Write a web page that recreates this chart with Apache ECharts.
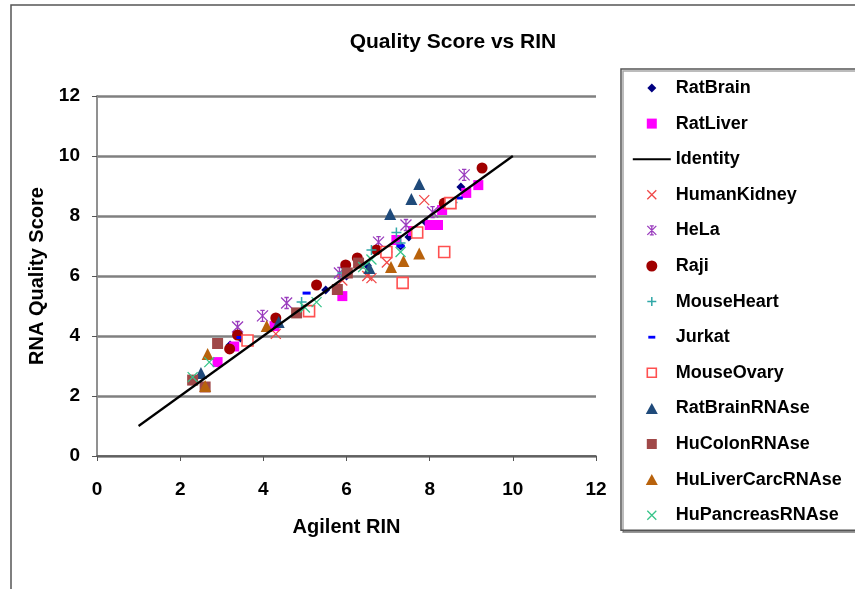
<!DOCTYPE html>
<html>
<head>
<meta charset="utf-8">
<script src="https://cdn.jsdelivr.net/npm/echarts@6/dist/echarts.min.js"></script>
<style>
  html, body { margin: 0; padding: 0; background: #fff; }
  #chart { width: 855px; height: 589px; }
</style>
</head>
<body>
<div id="chart"></div>
<script>
// values: [Agilent RIN, RNA Quality Score]
const ratBrain = [[3.2, 3.7], [3.45, 3.93], [5.5, 5.53], [6.0, 6.0], [6.5, 6.35], [7.0, 6.8], [7.3, 7.0], [7.5, 7.3], [7.9, 7.8], [8.75, 8.97]];
const ratLiver = [[2.9, 3.13], [3.3, 3.65], [4.27, 4.33], [5.9, 5.33], [7.2, 7.2], [7.6, 7.5], [8.0, 7.7], [8.2, 7.7], [8.3, 8.2], [8.88, 8.77], [9.17, 9.03]];
const identity = [[1, 1], [10, 10]];
const humanKidney = [[4.3, 4.07], [5.9, 5.85], [6.5, 6.0], [6.6, 5.93], [6.97, 6.45], [7.87, 8.53]];
const hela = [[3.38, 4.3], [3.98, 4.67], [4.56, 5.1], [5.83, 6.1], [6.77, 7.13], [7.43, 7.7], [8.07, 8.13], [8.83, 9.37]];
const raji = [[3.19, 3.57], [3.38, 4.03], [4.3, 4.6], [5.28, 5.7], [5.98, 6.37], [6.26, 6.6], [6.72, 6.87], [8.35, 8.43], [9.26, 9.6]];
const mouseHeart = [[4.92, 5.13], [5.9, 6.1], [6.6, 6.87], [7.2, 7.45], [7.3, 7.1], [8.55, 8.45]];
const jurkat = [[3.45, 3.95], [5.04, 5.43], [6.3, 6.42], [7.3, 7.0], [7.7, 7.4], [8.7, 8.6]];
const mouseOvary = [[3.62, 3.85], [5.1, 4.83], [6.96, 6.8], [7.35, 5.77], [7.7, 7.45], [8.35, 6.8], [8.5, 8.43]];
const ratBrainRNAse = [[2.5, 2.77], [4.37, 4.47], [6.55, 6.27], [7.05, 8.07], [7.56, 8.57], [7.75, 9.07]];
const huColonRNAse = [[2.3, 2.53], [2.6, 2.3], [2.9, 3.75], [4.8, 4.77], [5.78, 5.55], [6.02, 6.1], [6.29, 6.43]];
const huLiverCarcRNAse = [[2.6, 2.33], [2.66, 3.4], [4.08, 4.33], [7.07, 6.3], [7.37, 6.5], [7.75, 6.75]];
const huPancreasRNAse = [[2.3, 2.63], [2.7, 3.13], [5.0, 4.95], [5.28, 5.13], [6.4, 6.3], [6.6, 6.55], [7.3, 6.8]];

const xTicks = ['0', '2', '4', '6', '8', '10', '12'];
const yTicks = ['0', '2', '4', '6', '8', '10', '12'];

const FONT = '"Liberation Sans", Arial, sans-serif';
const CROSS = 'path://M0,0L10,10M10,0L0,10';
const STAR = 'path://M0,0L10,10M10,0L0,10M5,0L5,10M3,0L7,0M3,10L7,10';
const PLUS = 'path://M5,0L5,10M0,5L10,5';

// legend icons live in a 38x12 box; the two bare moveTo points fix the box
const BOX = 'path://M0,0M38,12';
const ICON = {
  diamond: BOX + 'M19,1.5L23.5,6L19,10.5L14.5,6Z',
  square: BOX + 'M14,1L24,1L24,11L14,11Z',
  line: BOX + 'M0,5L38,5L38,7L0,7Z',
  cross: BOX + 'M14.5,1.5L23.5,10.5M23.5,1.5L14.5,10.5',
  star: BOX + 'M14.5,1.5L23.5,10.5M23.5,1.5L14.5,10.5M19,1.5L19,10.5M17,1.5L21,1.5M17,10.5L21,10.5',
  circle: BOX + 'M13.5,6A5.5,5.5 0 1 1 24.5,6A5.5,5.5 0 1 1 13.5,6Z',
  plus: BOX + 'M19,1.5L19,10.5M14.5,6L23.5,6',
  dash: BOX + 'M15.5,4.6L22.5,4.6L22.5,7.4L15.5,7.4Z',
  hollow: BOX + 'M14.5,1.5L23.5,1.5L23.5,10.5L14.5,10.5Z',
  triangle: BOX + 'M19,0.5L25,11.5L13,11.5Z',
};

function pts(name, data, symbol, size, color, extra) {
  return Object.assign({
    name: name,
    type: 'scatter',
    data: data,
    symbol: symbol,
    symbolSize: size,
    itemStyle: { color: color, opacity: 1 },
  }, extra || {});
}

function strokeOnly(color, w) {
  return { itemStyle: { color: color, borderColor: color, borderWidth: w, opacity: 1 } };
}

function leg(name, icon, fill, stroke, w) {
  return {
    name: name,
    icon: icon,
    itemStyle: { color: fill, borderColor: stroke || fill, borderWidth: w || 0, opacity: 1 },
  };
}

const chart = echarts.init(document.getElementById('chart'));
chart.setOption({
  animation: false,
  title: {
    text: 'Quality Score vs RIN',
    left: 448,
    top: 27,
    textAlign: 'center',
    textStyle: { fontFamily: FONT, fontWeight: 'bold', fontSize: 21, color: '#000' },
  },
  graphic: [{
    type: 'rect',
    shape: { x: 11, y: 5, width: 900, height: 700 },
    style: { fill: 'none', stroke: '#555', lineWidth: 1.5 },
    silent: true,
  }],
  grid: { left: 97, right: 259, top: 96, bottom: 133 },
  legend: {
    orient: 'vertical',
    left: 621,
    top: 69,
    padding: [9, 60, 5, 11],
    itemWidth: 38,
    itemHeight: 12,
    itemGap: 15.6,
    borderColor: '#555',
    borderWidth: 1.5,
    shadowColor: 'rgba(0,0,0,0.35)',
    shadowOffsetX: 2,
    shadowOffsetY: 2,
    backgroundColor: '#fff',
    textStyle: { fontFamily: FONT, fontWeight: 'bold', fontSize: 18, lineHeight: 20, color: '#000' },
    data: [
      leg('RatBrain', ICON.diamond, '#000080'),
      leg('RatLiver', ICON.square, '#FF00FF'),
      leg('Identity', ICON.line, '#000000'),
      leg('HumanKidney', ICON.cross, '#F04848', '#F04848', 1.3),
      leg('HeLa', ICON.star, '#9A3CBE', '#9A3CBE', 1.3),
      leg('Raji', ICON.circle, '#A00000'),
      leg('MouseHeart', ICON.plus, '#30A8A8', '#30A8A8', 1.5),
      leg('Jurkat', ICON.dash, '#0000FF'),
      leg('MouseOvary', ICON.hollow, '#FFFFFF', '#FF5050', 1.6),
      leg('RatBrainRNAse', ICON.triangle, '#1F4A7A'),
      leg('HuColonRNAse', ICON.square, '#A04848'),
      leg('HuLiverCarcRNAse', ICON.triangle, '#B8620C'),
      leg('HuPancreasRNAse', ICON.cross, '#38C48A', '#38C48A', 1.3),
    ],
  },
  xAxis: {
    type: 'value',
    min: 0,
    max: 12,
    interval: 2,
    name: 'Agilent RIN',
    nameLocation: 'middle',
    nameGap: 61,
    nameTextStyle: { fontFamily: FONT, fontWeight: 'bold', fontSize: 20, color: '#000' },
    axisLine: { onZero: false, lineStyle: { color: '#555', width: 1.5 } },
    axisTick: { show: true, length: 5, lineStyle: { color: '#555' } },
    axisLabel: {
      margin: 24,
      fontFamily: FONT, fontWeight: 'bold', fontSize: 19, color: '#000',
      formatter: (v) => xTicks[Math.round(v / 2)],
    },
    splitLine: { show: false },
  },
  yAxis: [{
    type: 'value',
    min: 0,
    max: 12,
    interval: 2,
    name: 'RNA Quality Score',
    nameLocation: 'middle',
    nameGap: 45,
    nameTextStyle: { fontFamily: FONT, fontWeight: 'bold', fontSize: 20, color: '#000' },
    axisLine: { show: true, onZero: false, lineStyle: { color: '#555', width: 1.5 } },
    axisTick: { show: true, length: 5, lineStyle: { color: '#555' } },
    axisLabel: {
      margin: 17,
      fontFamily: FONT, fontWeight: 'bold', fontSize: 19, color: '#000',
      formatter: (v) => yTicks[Math.round(v / 2)],
    },
    splitLine: { show: true, lineStyle: { color: '#808080', width: 2.5 } },
  }, {
    type: 'value',
    position: 'right',
    min: 0,
    max: 12,
    interval: 2,
    axisLine: { show: true, lineStyle: { color: '#999', width: 1.5 } },
    axisTick: { show: false },
    axisLabel: { show: false },
    splitLine: { show: false },
  }],
  series: [
    pts('RatBrain', ratBrain, 'diamond', 9, '#000080'),
    pts('RatLiver', ratLiver, 'rect', 10, '#FF00FF'),
    {
      name: 'Identity',
      type: 'line',
      data: identity,
      symbol: 'none',
      lineStyle: { color: '#000', width: 2.2 },
      itemStyle: { color: '#000' },
    },
    pts('HumanKidney', humanKidney, CROSS, 10, '#F04848', strokeOnly('#F04848', 1.3)),
    pts('HeLa', hela, STAR, 11, '#9A3CBE', strokeOnly('#9A3CBE', 1.3)),
    pts('Raji', raji, 'circle', 11, '#A00000'),
    pts('MouseHeart', mouseHeart, PLUS, 10, '#30A8A8', strokeOnly('#30A8A8', 1.5)),
    pts('Jurkat', jurkat, 'rect', [8, 3], '#0000FF'),
    pts('MouseOvary', mouseOvary, 'rect', 11, '#FFFFFF', {
      itemStyle: { color: '#FFFFFF', borderColor: '#FF5050', borderWidth: 1.6, opacity: 1 },
    }),
    pts('RatBrainRNAse', ratBrainRNAse, 'triangle', 12, '#1F4A7A'),
    pts('HuColonRNAse', huColonRNAse, 'rect', 11, '#A04848'),
    pts('HuLiverCarcRNAse', huLiverCarcRNAse, 'triangle', 12, '#B8620C'),
    pts('HuPancreasRNAse', huPancreasRNAse, CROSS, 10, '#38C48A', strokeOnly('#38C48A', 1.3)),
  ],
});
</script>
</body>
</html>
